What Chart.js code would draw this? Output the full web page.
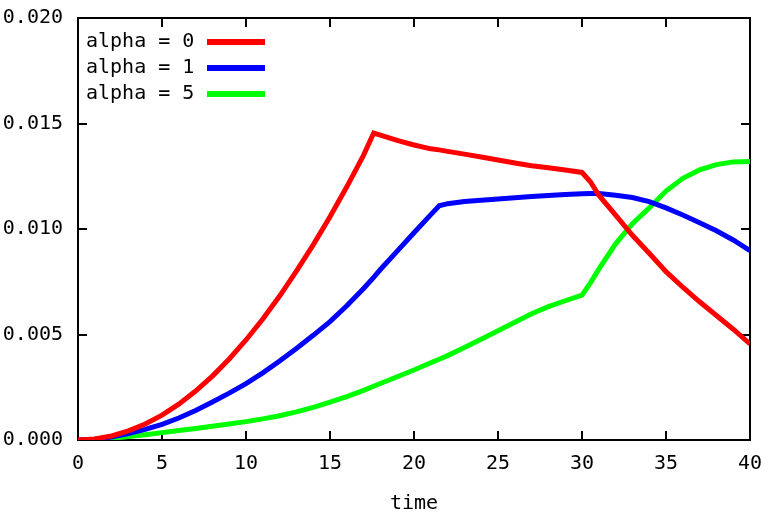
<!DOCTYPE html>
<html>
<head>
<meta charset="utf-8">
<script src="https://cdn.jsdelivr.net/npm/chart.js@4"></script>
<style>
  html, body { margin: 0; padding: 0; background: #fff; }
  #wrap { width: 775px; height: 516px; }
</style>
</head>
<body>
<div id="wrap"><canvas id="plot" width="775" height="516"></canvas></div>
<script>
const time = [0, 1, 2, 3, 4, 5, 6, 7, 8, 9, 10, 11, 12, 13, 14, 15, 16, 17, 17.6,
  18, 19, 20, 21, 21.5, 22, 23, 24, 25, 26, 27, 28, 29, 30, 30.5,
  31, 32, 33, 34, 35, 36, 37, 38, 39, 40];

const alpha0 = [0, 0.00005, 0.00019, 0.00043, 0.00076, 0.00118, 0.00170, 0.00232, 0.00303, 0.00384,
  0.00474, 0.00573, 0.00682, 0.00800, 0.00925, 0.01058, 0.01200, 0.01350, 0.01455,
  0.01445, 0.01420, 0.01398, 0.01380, 0.01375, 0.01368, 0.01355, 0.01341, 0.01327, 0.01313,
  0.01300, 0.01290, 0.01280, 0.01268, 0.01224,
  0.01160, 0.01066, 0.00970, 0.00885, 0.00798, 0.00724, 0.00655, 0.00590, 0.00525, 0.00455];

const alpha1 = [0, 0.00004, 0.00014, 0.00030, 0.00050, 0.00074, 0.00104, 0.00140, 0.00180, 0.00222,
  0.00267, 0.00318, 0.00374, 0.00434, 0.00496, 0.00561, 0.00636, 0.00718, 0.00771,
  0.00808, 0.00895, 0.00982, 0.01068, 0.01110, 0.01120, 0.01130, 0.01136, 0.01142, 0.01148,
  0.01154, 0.01159, 0.01163, 0.01167, 0.01168,
  0.01168, 0.01160, 0.01149, 0.01130, 0.01100, 0.01066, 0.01030, 0.00992, 0.00948, 0.00897];

const alpha5 = [0, 0.00002, 0.00008, 0.00016, 0.00025, 0.00035, 0.00045, 0.00055, 0.00065, 0.00076,
  0.00087, 0.00100, 0.00115, 0.00133, 0.00155, 0.00180, 0.00206, 0.00235, 0.00255,
  0.00268, 0.00300, 0.00332, 0.00366, 0.00383, 0.00400, 0.00438, 0.00478, 0.00518, 0.00558,
  0.00598, 0.00632, 0.00660, 0.00687, 0.00745,
  0.00810, 0.00930, 0.01025, 0.01100, 0.01180, 0.01240, 0.01280, 0.01305, 0.01318, 0.01320];

const seriesLabels = ["alpha = 0", "alpha = 1", "alpha = 5"];
const seriesColors = ["#ff0000", "#0000ff", "#00ff00"];

const FONT = "'DejaVu Sans Mono', monospace";
Chart.defaults.font.family = FONT;
Chart.defaults.font.size = 20;
Chart.defaults.color = "#000";

function toPoints(values) {
  return values.map((v, i) => ({ x: time[i], y: v }));
}

// gnuplot-style frame with inward ticks on all four sides
const framePlugin = {
  id: "frame",
  beforeDatasetsDraw(chart) {
    const { ctx, chartArea: a, scales } = chart;
    const tick = 9;
    ctx.save();
    ctx.strokeStyle = "#000";
    ctx.lineWidth = 2;
    ctx.strokeRect(a.left, a.top, a.right - a.left, a.bottom - a.top);
    ctx.beginPath();
    scales.x.ticks.forEach((t) => {
      const px = Math.round(scales.x.getPixelForValue(t.value));
      ctx.moveTo(px, a.bottom); ctx.lineTo(px, a.bottom - tick);
      ctx.moveTo(px, a.top); ctx.lineTo(px, a.top + tick);
    });
    scales.y.ticks.forEach((t) => {
      const py = Math.round(scales.y.getPixelForValue(t.value));
      ctx.moveTo(a.left, py); ctx.lineTo(a.left + tick, py);
      ctx.moveTo(a.right, py); ctx.lineTo(a.right - tick, py);
    });
    ctx.stroke();
    ctx.restore();
  },
  afterDatasetsDraw(chart) {
    const { ctx, chartArea: a } = chart;
    ctx.save();
    ctx.font = "20px " + FONT;
    ctx.fillStyle = "#000";
    ctx.textAlign = "left";
    ctx.textBaseline = "middle";
    chart.data.datasets.forEach((ds, i) => {
      const y = a.top + 24 + i * 26;
      ctx.fillText(ds.label, a.left + 8, y);
      ctx.strokeStyle = ds.borderColor;
      ctx.lineWidth = 6;
      ctx.beginPath();
      ctx.moveTo(a.left + 129, y);
      ctx.lineTo(a.left + 187, y);
      ctx.stroke();
    });
    ctx.restore();
  },
};

new Chart(document.getElementById("plot"), {
  type: "line",
  data: {
    datasets: [alpha0, alpha1, alpha5].map((vals, i) => ({
      label: seriesLabels[i],
      data: toPoints(vals),
      borderColor: seriesColors[i],
      backgroundColor: seriesColors[i],
      borderWidth: 5,
      pointRadius: 0,
      tension: 0,
      fill: false,
    })),
  },
  options: {
    responsive: false,
    animation: false,
    layout: { padding: { top: 18, right: 25, left: 0, bottom: 0 } },
    plugins: { legend: { display: false }, tooltip: { enabled: false } },
    scales: {
      x: {
        type: "linear",
        min: 0,
        max: 40,
        grid: { display: false, drawTicks: false },
        border: { display: false },
        ticks: { stepSize: 5, padding: 12, maxRotation: 0, callback: (v) => String(v) },
        title: { display: true, text: "time", padding: { top: 14, bottom: 0 } },
        afterFit: (scale) => { scale.height = 76; },
      },
      y: {
        min: 0,
        max: 0.02,
        grid: { display: false, drawTicks: false },
        border: { display: false },
        ticks: { stepSize: 0.005, padding: 15, callback: (v) => v.toFixed(3) },
        afterFit: (scale) => {
          scale.width = 78;
          scale.paddingTop = 0;
          scale.paddingBottom = 0;
        },
      },
    },
  },
  plugins: [framePlugin],
});
</script>
</body>
</html>
